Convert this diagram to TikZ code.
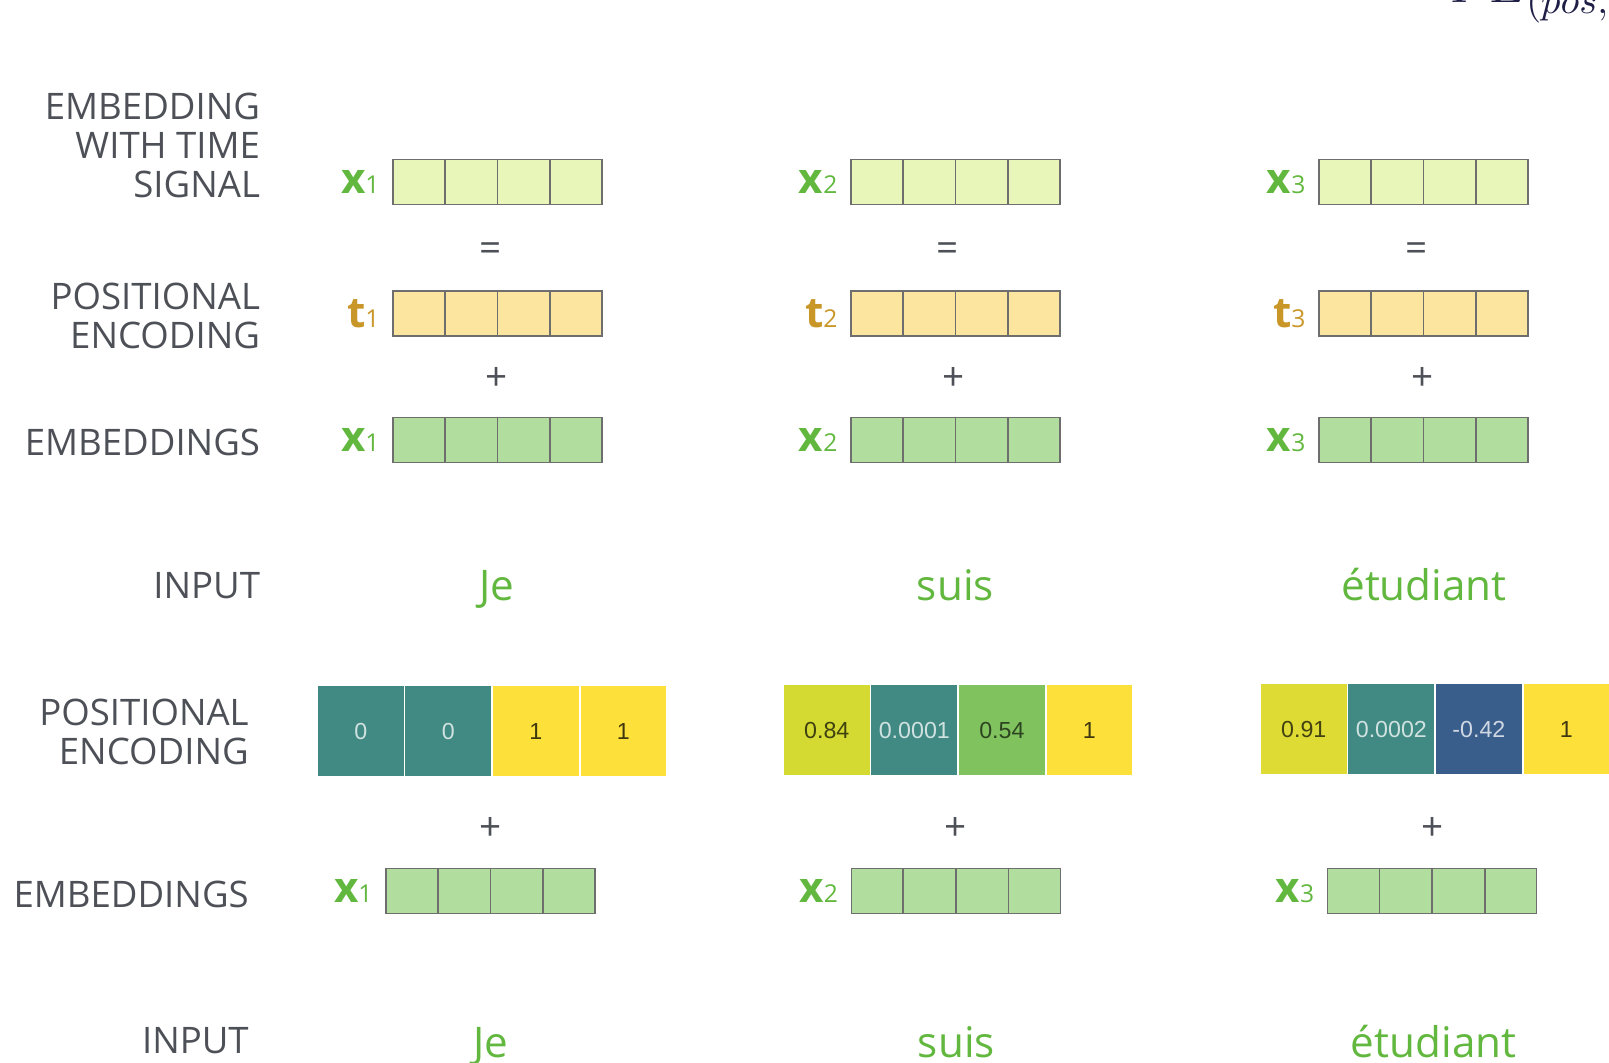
\documentclass[tikz,border=0pt]{standalone}
\usepackage{fontspec}
\setmainfont{Open Sans}
\newfontfamily\cellfont{Liberation Sans}
\usetikzlibrary{shapes.multipart,positioning}
\definecolor{LabelGray}{RGB}{77,81,87}
\definecolor{BoxGray}{RGB}{110,110,110}
\definecolor{WordGreen}{RGB}{98,184,62}
\definecolor{TGold}{RGB}{201,150,40}
\definecolor{TimeFill}{RGB}{233,246,186}
\definecolor{PosFill}{RGB}{252,229,159}
\definecolor{EmbFill}{RGB}{177,221,158}
\definecolor{PeTeal}{RGB}{65,138,132}
\definecolor{PeYellow}{RGB}{253,224,58}
\definecolor{PeOlive}{RGB}{212,218,50}
\definecolor{PeLime}{RGB}{222,220,52}
\definecolor{PeGreen}{RGB}{128,194,94}
\definecolor{PeBlue}{RGB}{58,94,140}
\definecolor{FormulaInk}{RGB}{30,30,70}

\begin{document}
\begin{tikzpicture}[
  x=0.01cm, y=-0.01cm,
  rowlabel/.style={anchor=east, align=right, text=LabelGray, inner sep=0pt,
    font=\fontsize{10.4}{11.1}\selectfont},
  vec/.style={rectangle split, rectangle split horizontal, rectangle split parts=4,
    draw=BoxGray, line width=0.45pt, inner sep=0pt,
    rectangle split empty part width=0.322cm,
    rectangle split empty part height=0.45cm,
    rectangle split empty part depth=0pt},
  timevec/.style={vec, fill=TimeFill},
  posvec/.style={vec, fill=PosFill},
  embvec/.style={vec, fill=EmbFill},
  veclabel/.style={inner sep=0pt, text=WordGreen, font=\fontsize{12}{12}\selectfont\bfseries},
  tlabel/.style={veclabel, text=TGold},
  op/.style={text=LabelGray, inner sep=0pt, font=\fontsize{11}{11}\selectfont},
  word/.style={anchor=base, text=WordGreen, font=\fontsize{12}{12}\selectfont},
  pecell/.style={rectangle, draw=white, line width=0.5pt, outer sep=0pt, inner sep=0pt,
    minimum width=0.875cm, minimum height=0.92cm,
    font=\cellfont\fontsize{6.6}{7}\selectfont},
  darktext/.style={text=black!75!PeYellow},
  lighttext/.style={text=white!75!PeTeal}
]
\useasboundingbox (0,0) rectangle (1609,1062);

% --- Cut-off formula (top right)
\node[anchor=base west, inner sep=0pt, text=FormulaInk, font=\fontsize{15}{15}\selectfont]
  (peform) at (1450,2) {$PE_{(pos,2i)}$};

% --- Row labels (upper part)
\node[rowlabel] (labtime) at (260.7,145.7) {EMBEDDING\\WITH TIME\\SIGNAL};
\node[rowlabel] (labpos)  at (260.7,316)   {POSITIONAL\\ENCODING};
\node[rowlabel] (labemb)  at (260.7,442)   {EMBEDDINGS};
\node[rowlabel] (labin)   at (260.7,586)   {INPUT};

% --- Embedding with time signal
\node[timevec] (tx1) at (497.5,182) {\nodepart{two}\nodepart{three}\nodepart{four}};
\node[timevec] (tx2) at (955.4,182) {\nodepart{two}\nodepart{three}\nodepart{four}};
\node[timevec] (tx3) at (1423.4,182) {\nodepart{two}\nodepart{three}\nodepart{four}};
\node[veclabel, left=0.12cm of tx1] {x{\fontsize{7}{7}\selectfont\mdseries 1}};
\node[veclabel, left=0.12cm of tx2] {x{\fontsize{7}{7}\selectfont\mdseries 2}};
\node[veclabel, left=0.12cm of tx3] {x{\fontsize{7}{7}\selectfont\mdseries 3}};

\node[op] at (491,252) {=};
\node[op] at (948,252) {=};
\node[op] at (1417,252) {=};

% --- Positional encoding vectors
\node[posvec] (pt1) at (497.5,313.5) {\nodepart{two}\nodepart{three}\nodepart{four}};
\node[posvec] (pt2) at (955.4,313.5) {\nodepart{two}\nodepart{three}\nodepart{four}};
\node[posvec] (pt3) at (1423.4,313.5) {\nodepart{two}\nodepart{three}\nodepart{four}};
\node[tlabel, left=0.12cm of pt1] {t{\fontsize{7}{7}\selectfont\mdseries 1}};
\node[tlabel, left=0.12cm of pt2] {t{\fontsize{7}{7}\selectfont\mdseries 2}};
\node[tlabel, left=0.12cm of pt3] {t{\fontsize{7}{7}\selectfont\mdseries 3}};

\node[op] at (497,379) {+};
\node[op] at (954,379) {+};
\node[op] at (1423,379) {+};

% --- Embeddings
\node[embvec] (em1) at (497.5,440) {\nodepart{two}\nodepart{three}\nodepart{four}};
\node[embvec] (em2) at (955.4,440) {\nodepart{two}\nodepart{three}\nodepart{four}};
\node[embvec] (em3) at (1423.4,440) {\nodepart{two}\nodepart{three}\nodepart{four}};
\node[veclabel, left=0.12cm of em1] {x{\fontsize{7}{7}\selectfont\mdseries 1}};
\node[veclabel, left=0.12cm of em2] {x{\fontsize{7}{7}\selectfont\mdseries 2}};
\node[veclabel, left=0.12cm of em3] {x{\fontsize{7}{7}\selectfont\mdseries 3}};

% --- Input words
\node[word] (je)   at (496.7,600) {Je};
\node[word] (suis) at (955.4,600) {suis};
\node[word] (etud) at (1424,600)  {étudiant};

% --- Row labels (lower part)
\node[rowlabel] (labpos2) at (249.4,731.5) {POSITIONAL\\ENCODING};
\node[rowlabel] (labemb2) at (249.4,894)   {EMBEDDINGS};
\node[rowlabel] (labin2)  at (249.4,1040.6) {INPUT};

% --- Positional encoding values: Je
\node[pecell, fill=PeTeal, lighttext, anchor=west] (pa1) at (317,731) {0};
\node[pecell, fill=PeTeal, lighttext, right=0pt of pa1] (pa2) {0};
\node[pecell, fill=PeYellow, darktext, right=0pt of pa2] (pa3) {1};
\node[pecell, fill=PeYellow, darktext, right=0pt of pa3] (pa4) {1};

% --- Positional encoding values: suis
\node[pecell, fill=PeOlive, text=black!70!PeOlive, anchor=west] (pb1) at (783,730) {0.84};
\node[pecell, fill=PeTeal, lighttext, right=0pt of pb1] (pb2) {0.0001};
\node[pecell, fill=PeGreen, text=black!65!PeGreen, right=0pt of pb2] (pb3) {0.54};
\node[pecell, fill=PeYellow, darktext, right=0pt of pb3] (pb4) {1};

% --- Positional encoding values: étudiant
\node[pecell, fill=PeLime, text=black!70!PeLime, anchor=west] (pc1) at (1260,729) {0.91};
\node[pecell, fill=PeTeal, lighttext, right=0pt of pc1] (pc2) {0.0002};
\node[pecell, fill=PeBlue, text=white!75!PeBlue, right=0pt of pc2] (pc3) {-0.42};
\node[pecell, fill=PeYellow, darktext, right=0pt of pc3] (pc4) {1};

\node[op] at (490.5,829) {+};
\node[op] at (955.4,829) {+};
\node[op] at (1432.6,829) {+};

% --- Embeddings (lower part)
\node[embvec] (eb1) at (490.5,891) {\nodepart{two}\nodepart{three}\nodepart{four}};
\node[embvec] (eb2) at (955.9,891) {\nodepart{two}\nodepart{three}\nodepart{four}};
\node[embvec] (eb3) at (1432.1,891) {\nodepart{two}\nodepart{three}\nodepart{four}};
\node[veclabel, left=0.12cm of eb1] {x{\fontsize{7}{7}\selectfont\mdseries 1}};
\node[veclabel, left=0.12cm of eb2] {x{\fontsize{7}{7}\selectfont\mdseries 2}};
\node[veclabel, left=0.12cm of eb3] {x{\fontsize{7}{7}\selectfont\mdseries 3}};

% --- Input words (lower part)
\node[word] (je2)   at (490.5,1057) {Je};
\node[word] (suis2) at (956.4,1057) {suis};
\node[word] (etud2) at (1433.6,1057) {étudiant};

\end{tikzpicture}
\end{document}
